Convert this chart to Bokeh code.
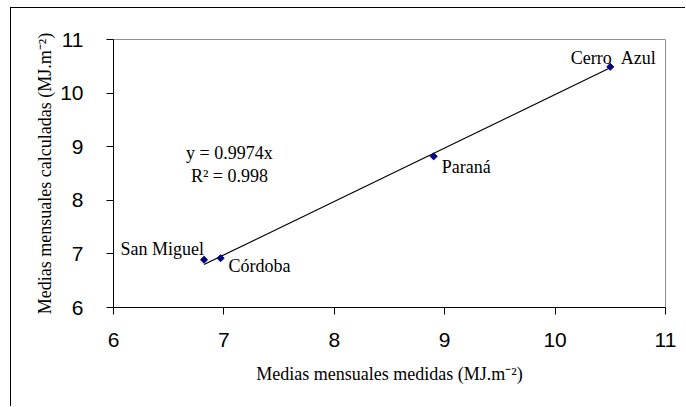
import math
from bokeh.plotting import figure
from bokeh.models import ColumnDataSource, FixedTicker, Range1d
from bokeh.core.properties import value
from bokeh.embed import file_html
from bokeh.resources import INLINE

# --- data ---
stations = ["San Miguel", "Córdoba", "Paraná", "Cerro \u00a0Azul"]
measured = [6.82, 6.97, 8.90, 10.50]
calculated = [6.89, 6.92, 8.82, 10.49]
slope = 0.9974
r2 = 0.998
ticks = [6, 7, 8, 9, 10, 11]

# label layout (screen offsets, alignment)
label_layout = [
    dict(dx=0, dy=-11, align="right"),
    dict(dx=8, dy=8, align="left"),
    dict(dx=8, dy=11, align="left"),
    dict(dx=3, dy=-9, align="center"),
]

p = figure(width=675, height=399, output_backend="svg", toolbar_location=None,
           x_range=Range1d(6, 11), y_range=Range1d(6, 11),
           min_border_left=102, min_border_right=21, min_border_top=31, min_border_bottom=100)
p.styles = {"border-left": "1px solid black", "border-top": "1px solid black",
            "margin-left": "10px", "margin-top": "7px"}
p.background_fill_color = "white"
p.border_fill_color = "white"
p.outline_line_color = "#909090"
p.outline_line_width = 1
p.xgrid.visible = False
p.ygrid.visible = False

for ax in (p.xaxis[0], p.yaxis[0]):
    ax.ticker = FixedTicker(ticks=ticks)
    ax.minor_tick_line_color = None
    ax.major_tick_in = 0
    ax.major_tick_out = 7
    ax.major_label_text_font = "Liberation Sans"
    ax.major_label_text_font_size = "21px"
    ax.major_label_text_color = "black"
    ax.axis_line_color = "black"
    ax.major_tick_line_color = "black"
    ax.axis_label_text_font = "Liberation Serif"
    ax.axis_label_text_font_size = "18px"
    ax.axis_label_text_font_style = "normal"
    ax.axis_label_text_color = "black"

p.xaxis.axis_label = "Medias mensuales medidas (MJ.m⁻²)"
p.yaxis.axis_label = "Medias mensuales calculadas (MJ.m⁻²)"
p.xaxis.major_label_standoff = 18
p.xaxis.axis_label_standoff = 14
p.yaxis.major_label_standoff = 23
p.yaxis.axis_label_standoff = 2

# trend line
xl = [min(measured), max(measured)]
yl = [slope * v for v in xl]
p.line(xl, yl, line_color="black", line_width=1.2)

src = ColumnDataSource(dict(x=measured, y=calculated, name=stations))
p.scatter("x", "y", source=src, marker="square", size=5, angle=math.pi / 4,
          fill_color="#000080", line_color="#000080", line_width=1)

for i, lay in enumerate(label_layout):
    p.text([measured[i]], [calculated[i]], text=[stations[i]], x_offset=lay["dx"], y_offset=lay["dy"],
           text_align=lay["align"], text_baseline="alphabetic",
           text_font=value("Liberation Serif"), text_font_size="18px", text_color="black")

p.text([7.05], [8.89], text=[f"y = {slope}x"], text_align="center", text_baseline="alphabetic",
       text_font=value("Liberation Serif"), text_font_size="18px", text_color="black")
p.text([7.05], [8.46], text=[f"R² = {r2}"], text_align="center", text_baseline="alphabetic",
       text_font=value("Liberation Serif"), text_font_size="18px", text_color="black")

open("out.html", "w").write(file_html(p, INLINE))
